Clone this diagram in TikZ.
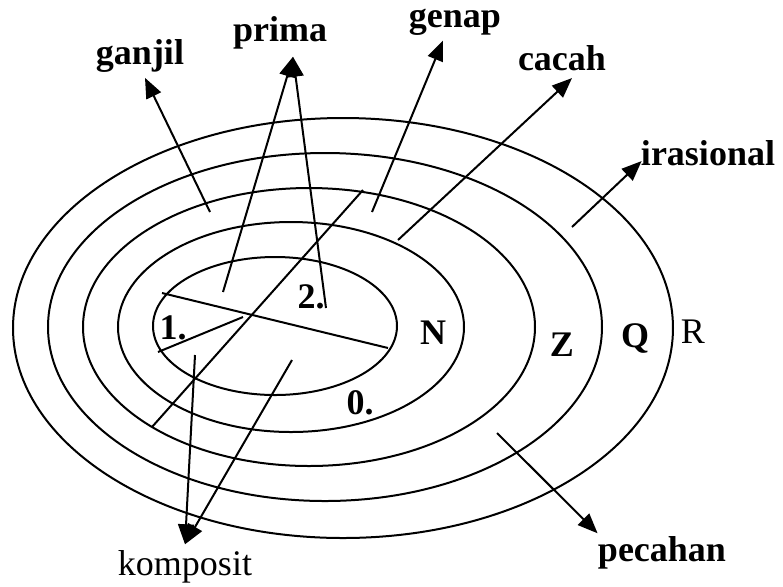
\documentclass[tikz,border=0pt]{standalone}
\usepackage{fontspec}
\setmainfont{Liberation Serif}
\usepackage{tikz}
\usetikzlibrary{positioning,arrows.meta}

\begin{document}
\begin{tikzpicture}[
            x=0.5pt, y=-0.5pt,
            ring/.style={draw=black, line width=1pt},
            seg/.style={line width=1pt},
            arrow/.style={-{Triangle[length=10pt, width=8pt]}, line width=1pt},
            lbl/.style={inner sep=1pt, font=\fontsize{18}{20}\selectfont\bfseries},
            lblthin/.style={inner sep=1pt, font=\fontsize{18}{20}\selectfont}
        ]
            \useasboundingbox (0,0) rectangle (783,586);

            % 椭圆
            \draw[ring] (343,328) ellipse [x radius=330, y radius=210];
            \draw[ring] (325,327) ellipse [x radius=277, y radius=174];
            \draw[ring] (309,327) ellipse [x radius=226, y radius=139];
            \draw[ring] (291,327) ellipse [x radius=173, y radius=105];
            \draw[ring] (275,326) ellipse [x radius=122, y radius=69];

            % 集合标记
            \node[lbl] (setN) at (433,333) {N};
            \node[lbl] (setZ) at (562,345) {Z};
            \node[lbl] (setQ) at (635,338) {Q};
            \node[lblthin] (setR) at (693,332) {R};

            \node[lbl] (one) at (173,328) {1.};
            \node[lbl] (two) at (311,297) {2.};
            \node[lbl] (zero) at (360,403) {0.};

            % 内部分割线
            \coordinate (chordA) at (162,293);
            \coordinate (chordB) at (388,348);
            \coordinate (oneA) at (158,352);
            \coordinate (oneB) at (243,317);
            \coordinate (diagA) at (152,427);
            \coordinate (diagB) at (363,190);
            \draw[seg] (chordA) -- (chordB);
            \draw[seg] (oneA) -- (oneB);
            \draw[seg] (diagA) -- (diagB);

            % 标签
            \node[lbl] (ganjil) at (140,56) {ganjil};
            \node[lbl] (prima) at (280,33) {prima};
            \node[lbl] (genap) at (455,22) {genap};
            \node[lbl] (cacah) at (562,58) {cacah};
            \node[lbl] (irasional) at (708,153) {irasional};
            \node[lbl] (pecahan) at (662,553) {pecahan};
            \node[lblthin] (komposit) at (185,567) {komposit};

            % 箭头起点
            \coordinate (ganjilpt) at (210,212);
            \coordinate (primaA) at (223,292);
            \coordinate (primaB) at (326,308);
            \coordinate (genappt) at (372,212);
            \coordinate (cacahpt) at (398,240);
            \coordinate (iraspt) at (572,227);
            \coordinate (pecahpt) at (497,433);
            \coordinate (kompA) at (195,355);
            \coordinate (kompB) at (292,360);

            % 箭头
            \draw[arrow] (ganjilpt) -- ([shift={(5,3)}]ganjil.south);
            \draw[arrow] (primaA) -- ([shift={(13,5)}]prima.south);
            \draw[arrow] (primaB) -- ([shift={(13,5)}]prima.south);
            \draw[arrow] (genappt) -- ([shift={(-12,3)}]genap.south);
            \draw[arrow] (cacahpt) -- ([shift={(10,5)}]cacah.south);
            \draw[arrow] (iraspt) -- ([shift={(3,-7)}]irasional.south west);
            \draw[arrow] (pecahpt) -- ([shift={(2,-1)}]pecahan.north west);
            \draw[arrow] (kompA) -- ([shift={(0,-4)}]komposit.north);
            \draw[arrow] (kompB) -- ([shift={(0,-4)}]komposit.north);
        \end{tikzpicture}
\end{document}
